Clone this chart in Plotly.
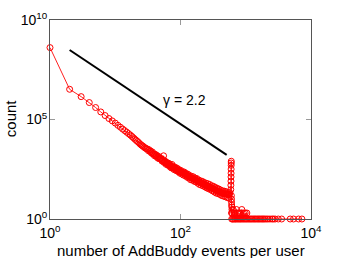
import plotly.graph_objects as go

# ---- data (events per user -> number of users) ----
head_x = list(range(1, 31))
head_y = [410000000, 3300000, 1410000, 710000, 400000, 240000, 158000, 112000,
          85000, 66000, 51000, 41000, 33000, 27500, 23000, 19500, 16600, 14100,
          12000, 10200, 8900, 7800, 6800, 5900, 5250, 4800, 4350, 3980, 3630, 3390]

band_x = [31, 32, 33, 34, 35, 36, 37, 38, 39, 40, 41, 42, 43, 44, 45, 46, 47, 48,
          50, 52, 54, 55, 56, 58, 60, 62, 64, 66, 68, 70, 72, 74, 76, 78, 80, 83,
          86, 89, 92, 95, 98, 101, 104, 107, 110, 114, 118, 122, 126, 130, 134,
          138, 142, 147, 152, 157, 162, 167, 172, 178, 184, 190, 196, 202, 209,
          216, 223, 230, 238, 246, 254, 262, 271, 280, 289, 299, 309, 319, 330,
          341, 352, 364, 376, 389, 402, 415, 429, 443, 458, 473, 489, 505, 522,
          539, 556, 570]
band_y = [3310, 2750, 3020, 2450, 2570, 2040, 2340, 1820, 1900, 1510, 1780, 1450,
          1620, 1230, 1380, 1100, 1350, 1050, 1120, 813, 955, 1500, 692, 813, 562,
          692, 513, 631, 437, 525, 372, 550, 355, 437, 302, 398, 269, 355, 240,
          302, 200, 275, 186, 240, 162, 229, 148, 195, 126, 178, 115, 151, 95,
          141, 91, 132, 79, 115, 74, 107, 63, 91, 54, 83, 50, 78, 46, 69, 41, 63,
          36, 59, 33, 54, 30, 47, 26, 44, 23, 39, 20, 35, 19, 32, 17, 28, 15, 26,
          14, 25, 13, 23, 12, 21, 11, 21]

mid_x = [49, 51, 53, 57, 59, 61, 63, 65, 67, 69, 71, 73, 75, 77, 79, 81, 85, 88,
         91, 94, 97, 100, 103, 106, 109, 112, 116, 120, 124, 128, 132, 136, 140,
         145, 150, 155, 160, 165, 170, 175, 181, 187, 193, 199, 206, 213, 220,
         227, 234, 242, 250, 258, 267, 276, 285, 294, 304, 314, 325, 336, 347,
         358, 370, 383, 396, 409, 422, 436, 450, 466, 481, 497, 514, 531, 548, 563]
mid_y = [1070, 980, 890, 740, 690, 645, 600, 560, 525, 490, 457, 427, 407, 389,
         372, 355, 324, 302, 282, 263, 245, 234, 224, 214, 204, 195, 186, 174,
         162, 151, 141, 132, 123, 117, 112, 107, 102, 98, 93, 89, 83, 78, 72, 68,
         65, 62, 59, 56, 54, 51, 49, 47, 44, 42, 40, 38, 35, 34, 32, 30, 28, 27,
         25, 24, 23, 22, 21, 20, 19, 19, 18, 18, 18, 17, 17, 17]

spike_x = [590, 592, 594, 595, 596, 597, 598, 599, 600, 602, 604, 606, 608, 612, 615]
spike_y = [30, 50, 80, 130, 200, 320, 500, 650, 800, 15, 10, 7, 5, 4, 3]

tail2_x = [605, 620, 640, 660, 690, 720, 750, 790, 830, 870, 920, 980, 1040]
tail2_y = [2, 2, 3, 2, 2, 3, 2, 2, 2, 3, 2, 2, 2]

tail1_x = [610, 630, 650, 680, 700, 730, 760, 790, 820, 850, 890, 930, 970, 1010,
           1050, 1100, 1150, 1200, 1250, 1310, 1370, 1430, 1500, 1570, 1640, 1720,
           1800, 1880, 1970, 2080, 2200, 2350, 2520, 2650, 2820, 3150, 3550, 4800,
           5400, 6450, 7250]
tail1_y = [1] * len(tail1_x)

fit_x = [2, 510]
fit_y = [310000000, 1660]

x_ticks = [1, 100, 10000]
y_ticks = [1, 100000, 10000000000]
x_exp = ["0", "2", "4"]
y_exp = ["0", "5", "10"]


def sci(e):
    return "10<sup>" + e + "</sup>"


pts = sorted(zip(head_x + band_x + mid_x + spike_x + tail2_x + tail1_x,
                 head_y + band_y + mid_y + spike_y + tail2_y + tail1_y))
xs = [p[0] for p in pts]
ys = [p[1] for p in pts]

fig = go.Figure()
fig.add_trace(go.Scatter(
    x=xs, y=ys, mode="lines+markers",
    line=dict(color="#ff2020", width=1),
    marker=dict(symbol="circle-open", size=6, color="#ff0000", line=dict(width=1)),
    cliponaxis=False, showlegend=False, hoverinfo="skip"))
fig.add_trace(go.Scatter(
    x=fit_x, y=fit_y, mode="lines",
    line=dict(color="black", width=2), showlegend=False, hoverinfo="skip"))

fig.add_annotation(x=1.70, y=5.98, xref="x", yref="y", text="γ = 2.2",
                   showarrow=False, xanchor="left", yanchor="middle",
                   font=dict(size=14, color="black"))

# axis titles as paper-anchored text
fig.add_annotation(x=0.5, y=-0.108, xref="paper", yref="paper",
                   text="number of AddBuddy events per user", showarrow=False,
                   xanchor="center", yanchor="top", font=dict(size=15, color="black"))
fig.add_annotation(x=-0.153, y=0.507, xref="paper", yref="paper", text="count",
                   textangle=-90, showarrow=False, xanchor="center", yanchor="middle",
                   font=dict(size=15, color="black"))

axis_common = dict(type="log", showgrid=False, zeroline=False, showline=True,
                   linecolor="#555555", linewidth=1, mirror="ticks",
                   ticks="inside", ticklen=5, tickcolor="#999999",
                   automargin=False,
                   tickfont=dict(size=14, color="black"))

fig.update_xaxes(range=[0, 4], tickvals=x_ticks, ticktext=[sci(e) for e in x_exp],
                 ticklabelstandoff=1, **axis_common)
fig.update_yaxes(range=[0, 10], tickvals=y_ticks, ticktext=[sci(e) for e in y_exp],
                 ticklabelstandoff=-1, **axis_common)

fig.update_layout(width=343, height=258,
                  margin=dict(l=50, r=32, t=20, b=39),
                  paper_bgcolor="white", plot_bgcolor="white",
                  font=dict(family="Liberation Sans, Arial, sans-serif"))

fig.write_html("out.html", config={"displayModeBar": False},
               post_script="document.body.style.margin='0px';")
